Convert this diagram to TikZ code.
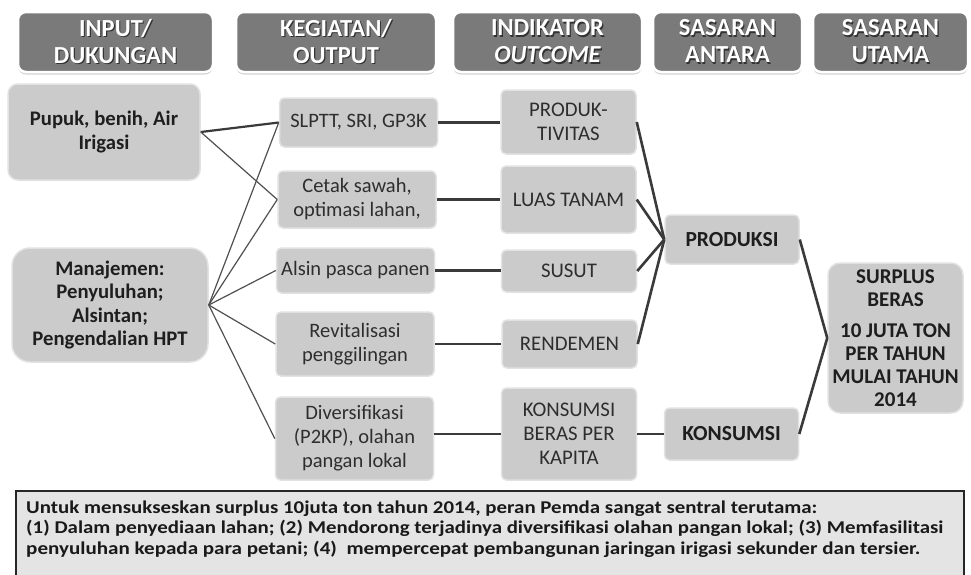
\documentclass[tikz,border=0pt]{standalone}
\usepackage{fontspec}
\setmainfont{Carlito}
\usetikzlibrary{shadows}
\definecolor{hdrgray}{HTML}{7A7A7A}
\definecolor{boxgray}{HTML}{CBCBCB}
\definecolor{boxedge}{HTML}{E2E2E2}
\definecolor{linegray}{HTML}{3A3A3A}
\definecolor{thingray}{HTML}{505050}
\definecolor{txtgray}{HTML}{1E1E1E}
\definecolor{notegray}{HTML}{E4E4E4}
\newcommand\shtext[1]{\rlap{\kern1.2pt\raisebox{-1.2pt}{\textcolor{black!80}{#1}}}#1}
\newcommand\fitline[2]{\resizebox{#1}{\height}{#2}}
\begin{document}
\begin{tikzpicture}[x=1pt,y=-1pt,
  hdr/.style={draw=white, line width=2.5pt, fill=hdrgray, rounded corners=8pt,
    text=white, font=\fontsize{24.5}{27}\selectfont\bfseries, align=center, inner sep=0pt,
    minimum height=60pt,
    drop shadow={shadow xshift=0pt,shadow yshift=-2.5pt,opacity=0.35}},
  lbox/.style={draw=boxedge, line width=1.5pt, fill=boxgray, rounded corners=5pt,
    text=txtgray, align=center, inner sep=0pt},
  bigbox/.style={lbox, font=\fontsize{20.7}{23.5}\selectfont\bfseries},
  outbox/.style={lbox, font=\fontsize{20.5}{24}\selectfont, text=black!82, minimum width=158pt},
  indbox/.style={lbox, font=\fontsize{20.8}{24}\selectfont, text=black!82, minimum width=135pt},
  antbox/.style={lbox, font=\fontsize{21.5}{24}\selectfont\bfseries, minimum width=134pt},
  thick link/.style={draw=linegray, line width=2.6pt},
  thin link/.style={draw=thingray, line width=1.2pt},
  notebox/.style={draw=black!85, line width=1.5pt, fill=notegray, inner sep=0pt},
  noteline/.style={anchor=base west, inner sep=0pt, text=black!90,
    font=\fontsize{18}{20}\selectfont\bfseries}
]
\useasboundingbox (0,0) rectangle (971,574);
\fill[white] (0,0) rectangle (971,574);

% headers
\node[hdr, minimum width=195pt] (h1) at (115.5,42) {\shtext{INPUT/}\\\shtext{DUKUNGAN}};
\node[hdr, minimum width=200pt] (h2) at (336,42) {\shtext{KEGIATAN/}\\\shtext{OUTPUT}};
\node[hdr, minimum width=189pt] (h3) at (547.5,42) {\shtext{INDIKATOR}\\\shtext{\itshape OUTCOME}};
\node[hdr, minimum width=149pt] (h4) at (727.5,42) {\shtext{SASARAN}\\\shtext{ANTARA}};
\node[hdr, minimum width=155pt] (h5) at (890.5,42) {\shtext{SASARAN}\\\shtext{UTAMA}};

% input boxes
\node[bigbox, rounded corners=10pt, minimum width=192pt, minimum height=96pt] (pupuk) at (104,132)
  {Pupuk, benih, Air\\Irigasi};
\node[bigbox, rounded corners=18pt, minimum width=196pt, minimum height=114pt] (manaj) at (110,305)
  {Manajemen:\\Penyuluhan;\\Alsintan;\\Pengendalian HPT};

% output boxes
\node[outbox, minimum height=49pt] (o1) at (358.5,122.5) {SLPTT, SRI, GP3K};
\node[outbox, minimum height=57pt] (o2) at (357,199.5) {Cetak sawah,\\optimasi lahan,};
\node[outbox, minimum height=45pt] (o3) at (355.5,270.5) {Alsin pasca panen};
\node[outbox, minimum height=64pt] (o4) at (355,344) {Revitalisasi\\penggilingan};
\node[outbox, minimum height=83pt] (o5) at (354.5,438.5) {Diversifikasi\\(P2KP), olahan\\pangan lokal};

% indicator boxes
\node[indbox, minimum height=64pt] (i1) at (568.5,122) {PRODUK-\\TIVITAS};
\node[indbox, minimum height=67pt] (i2) at (568.5,199.5) {LUAS TANAM};
\node[indbox, minimum height=42pt] (i3) at (569,271) {SUSUT};
\node[indbox, minimum height=48pt] (i4) at (569.5,344) {RENDEMEN};
\node[indbox, minimum height=92pt] (i5) at (569,434) {KONSUMSI\\BERAS PER\\KAPITA};

% intermediate targets
\node[antbox, minimum height=49pt] (prod) at (732,239.5) {PRODUKSI};
\node[antbox, minimum height=52pt] (kons) at (731.5,434) {KONSUMSI};

% main target
\node[lbox, rounded corners=12pt, font=\fontsize{21}{23}\selectfont\bfseries,
  minimum width=135pt, minimum height=150pt] (surplus) at (895.5,338)
  {SURPLUS\\BERAS\\[8pt]10 JUTA TON\\PER TAHUN\\MULAI TAHUN\\2014};

% connectors: input -> output
\draw[thick link, line width=2.2pt] (pupuk.east) -- (o1.west);
\draw[thin link] (pupuk.east) -- (o2.west);
\draw[thin link] (manaj.east) -- (o1.west);
\draw[thin link] (manaj.east) -- (o2.west);
\draw[thin link] (manaj.east) -- (o3.west);
\draw[thin link] (manaj.east) -- (o4.west);
\draw[thin link] (manaj.east) -- (o5.west);

% output -> indicator
\draw[thick link] (o1.east) -- (i1.west |- o1.east);
\draw[thick link] (o2.east) -- (i2.west |- o2.east);
\draw[thick link] (o3.east) -- (i3.west |- o3.east);
\draw[thick link] (o4.east) -- (i4.west |- o4.east);
\draw[thick link] (i5.west) -- (i5.west -| o5.east);

% indicator -> intermediate
\draw[thick link] (i1.east) -- (prod.west);
\draw[thick link] (i2.east) -- (prod.west);
\draw[thick link] (i3.east) -- (prod.west);
\draw[thick link] (i4.east) -- (prod.west);
\draw[thick link] (i5.east) -- (kons.west);

% intermediate -> main
\draw[thick link] (prod.east) -- (surplus.west);
\draw[thick link] (kons.east) -- (surplus.west);

% note
\node[notebox, anchor=north west, minimum width=948pt, minimum height=92pt] (note) at (15,490) {};
\node[noteline] (n1) at (26,513) {\fitline{791pt}{Untuk mensukseskan surplus 10juta ton tahun 2014, peran Pemda sangat sentral terutama:}};
\node[noteline] (n2) at (26,533.5) {\fitline{917pt}{(1) Dalam penyediaan lahan; (2) Mendorong terjadinya diversifikasi olahan pangan lokal; (3) Memfasilitasi}};
\node[noteline] (n3) at (26,554) {\fitline{894pt}{penyuluhan kepada para petani; (4) \ mempercepat pembangunan jaringan irigasi sekunder dan tersier.}};
\end{tikzpicture}
\end{document}
